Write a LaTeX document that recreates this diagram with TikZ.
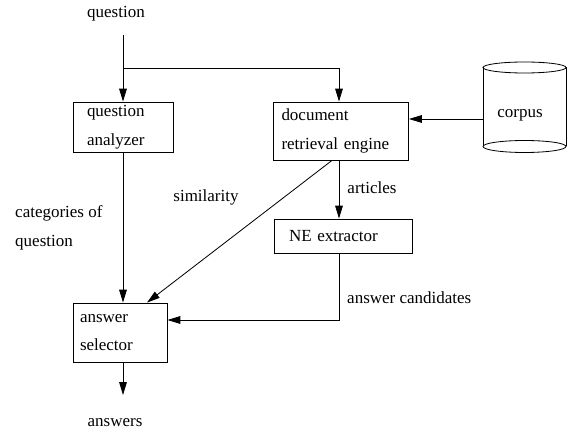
\documentclass[tikz,border=0pt]{standalone}
\usepackage{fontspec}
\setmainfont{Liberation Serif}
\usetikzlibrary{arrows.meta,calc}

\tikzset{
	box/.style={draw, line width=0.7pt, align=left, inner sep=0pt},
	lbl/.style={inner sep=0pt, align=left},
	flow/.style={line width=0.7pt, -{Triangle[length=11pt,width=6.5pt]}},
}

\begin{document}
\begin{tikzpicture}[x=0.03cm,y=-0.03cm,font=\fontsize{14.5}{24.5}\selectfont]
		\useasboundingbox (0,0) rectangle (567,431);

		% Boxes
		\node[box, minimum width=100*0.03cm, minimum height=50*0.03cm, text width=72*0.03cm] (qa) at (123,127) {question\\analyzer};
		\node[box, minimum width=135*0.03cm, minimum height=58*0.03cm, text width=119*0.03cm] (doc) at (341,131) {document\\retrieval engine};
		\node[box, minimum width=138*0.03cm, minimum height=34*0.03cm, text width=108*0.03cm] (ne) at (343,236) {NE extractor};
		\node[box, minimum width=94*0.03cm, minimum height=59*0.03cm, text width=80*0.03cm] (as) at (120,332.5) {answer\\selector};

		% Corpus
		\draw[line width=0.7pt] (483,67.5) -- (483,146.5);
		\draw[line width=0.7pt] (566,67.5) -- (566,146.5);
		\draw[line width=0.7pt] (524.5,67.5) ellipse [x radius=41.5, y radius=5.5];
		\draw[line width=0.7pt] (524.5,146.5) ellipse [x radius=41.5, y radius=6];
		\node[lbl] (corpus) at (520,115) {corpus};

		% Labels
		\node[lbl] (qin) at (116,14) {question};
		\node[lbl, anchor=west] (cat) at (15,228) {categories of\\question};
		\node[lbl] (sim) at (206,197) {similarity};
		\node[lbl] (art) at (372,188) {articles};
		\node[lbl, anchor=west] (cand) at (347,298) {answer candidates};
		\node[lbl, anchor=base] (ans) at (115,426) {answers};

		% Points
		\coordinate (qtop) at (123,35);
		\coordinate (split) at (123,68);
		\coordinate (corpusL) at (483,119);
		\coordinate (nline) at (339,0);
		\coordinate (ncorner) at (339,320);
		\coordinate (out) at (123,395);

		% Arrows
		\draw[flow] (qtop) -- (qa.north -| qtop);
		\draw[flow] (split) -| (doc.north -| nline);
		\draw[flow] (corpusL) -- (corpusL -| doc.east);
		\draw[flow] (doc.south -| nline) -- (ne.north -| nline);
		\draw[flow] ($(doc.south)+(-9,0)$) -- ($(as.north)+(27,0)$);
		\draw[flow] (qa.south) -- (as.north -| qa.south);
		\draw[flow] (ne.south -| ncorner) -- (ncorner) -- (ncorner -| as.east);
		\draw[flow] (as.south -| out) -- (out);
	\end{tikzpicture}
\end{document}
